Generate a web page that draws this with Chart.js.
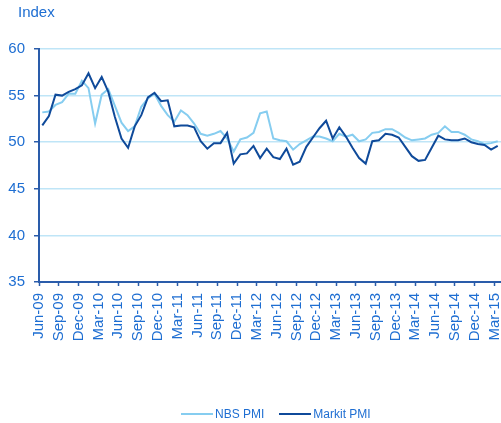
<!DOCTYPE html>
<html>
<head>
<meta charset="utf-8">
<script src="https://cdn.jsdelivr.net/npm/chart.js@4.4.1/dist/chart.umd.min.js"></script>
<style>
  html, body { margin: 0; padding: 0; background: #fff; overflow: hidden; }
  #wrap { position: relative; width: 501px; height: 423px; }
  #title { position: absolute; left: 18px; top: 3px; font: 15px/18px "Liberation Sans", Arial, sans-serif; color: #1e6ed2; }
  #legend { position: absolute; left: 181px; top: 407px; display: flex; align-items: center;
    font: 12px "Liberation Sans", Arial, sans-serif; color: #1e6ed2; white-space: nowrap; line-height: 14px; }
  #legend .item { display: flex; align-items: center; margin-right: 15px; }
  #legend .swatch { display: inline-block; width: 32px; height: 2px; margin-right: 2px; }
</style>
</head>
<body>
<div id="wrap">
  <canvas id="chartPmi" width="501" height="423"></canvas>
  <div id="title">Index</div>
  <div id="legend"></div>
</div>
<script>
// meses Jun-09 .. Mar-15 (um ponto por mes)
const months = [
  'Jun-09', 'Jul-09', 'Aug-09', 'Sep-09', 'Oct-09', 'Nov-09', 'Dec-09',
  'Jan-10', 'Feb-10', 'Mar-10', 'Apr-10', 'May-10', 'Jun-10', 'Jul-10', 'Aug-10', 'Sep-10', 'Oct-10', 'Nov-10', 'Dec-10',
  'Jan-11', 'Feb-11', 'Mar-11', 'Apr-11', 'May-11', 'Jun-11', 'Jul-11', 'Aug-11', 'Sep-11', 'Oct-11', 'Nov-11', 'Dec-11',
  'Jan-12', 'Feb-12', 'Mar-12', 'Apr-12', 'May-12', 'Jun-12', 'Jul-12', 'Aug-12', 'Sep-12', 'Oct-12', 'Nov-12', 'Dec-12',
  'Jan-13', 'Feb-13', 'Mar-13', 'Apr-13', 'May-13', 'Jun-13', 'Jul-13', 'Aug-13', 'Sep-13', 'Oct-13', 'Nov-13', 'Dec-13',
  'Jan-14', 'Feb-14', 'Mar-14', 'Apr-14', 'May-14', 'Jun-14', 'Jul-14', 'Aug-14', 'Sep-14', 'Oct-14', 'Nov-14', 'Dec-14',
  'Jan-15', 'Feb-15', 'Mar-15',
];

// rotulos do eixo x (a cada 3 meses)
const tickLabels = [
  'Jun-09', 'Sep-09', 'Dec-09', 'Mar-10', 'Jun-10', 'Sep-10', 'Dec-10', 'Mar-11',
  'Jun-11', 'Sep-11', 'Dec-11', 'Mar-12', 'Jun-12', 'Sep-12', 'Dec-12', 'Mar-13',
  'Jun-13', 'Sep-13', 'Dec-13', 'Mar-14', 'Jun-14', 'Sep-14', 'Dec-14', 'Mar-15',
];

const nbsPmi = [
  53.2, 53.3, 54.0, 54.3, 55.2, 55.2, 56.6,
  55.8, 52.0, 55.1, 55.7, 53.9, 52.1, 51.2, 51.7, 53.8, 54.7, 55.2, 53.9,
  52.9, 52.2, 53.4, 52.9, 52.0, 50.9, 50.7, 50.9, 51.2, 50.4, 49.0, 50.3,
  50.5, 51.0, 53.1, 53.3, 50.4, 50.2, 50.1, 49.2, 49.8, 50.2, 50.6, 50.6,
  50.4, 50.1, 50.9, 50.6, 50.8, 50.1, 50.3, 51.0, 51.1, 51.4, 51.4, 51.0,
  50.5, 50.2, 50.3, 50.4, 50.8, 51.0, 51.7, 51.1, 51.1, 50.8, 50.3, 50.1,
  49.8, 49.9, 50.1,
];

const markitPmi = [
  51.8, 52.8, 55.1, 55.0, 55.4, 55.7, 56.1,
  57.4, 55.8, 57.0, 55.4, 52.7, 50.4, 49.4, 51.7, 52.9, 54.8, 55.3, 54.4,
  54.5, 51.7, 51.8, 51.8, 51.6, 50.1, 49.3, 49.9, 49.9, 51.0, 47.7, 48.7,
  48.8, 49.6, 48.3, 49.3, 48.4, 48.2, 49.3, 47.6, 47.9, 49.5, 50.5, 51.5,
  52.3, 50.4, 51.6, 50.6, 49.4, 48.3, 47.7, 50.1, 50.2, 50.9, 50.8, 50.5,
  49.5, 48.5, 48.0, 48.1, 49.4, 50.7, 50.3, 50.2, 50.2, 50.4, 50.0, 49.8,
  49.7, 49.2, 49.6,
];

const yTicks = [35, 40, 45, 50, 55, 60];

const FONT = '"Liberation Sans", Arial, sans-serif';
const TEXT_BLUE = '#1e6ed2';
const AXIS_BLUE = '#2a5caa';
const GRID_BLUE = '#bfe5f7';

// pontos no meio do mes, ticks na divisa
const toPoints = (arr) => arr.map((v, i) => ({ x: i + 0.5, y: v }));

const ctx = document.getElementById('chartPmi');
const chart = new Chart(ctx, {
  type: 'line',
  data: {
    datasets: [
      { label: 'NBS PMI', data: toPoints(nbsPmi), borderColor: '#86cdf0', backgroundColor: '#86cdf0', borderWidth: 2, pointRadius: 0, tension: 0, order: 1 },
      { label: 'Markit PMI', data: toPoints(markitPmi), borderColor: '#0f4a9a', backgroundColor: '#0f4a9a', borderWidth: 2, pointRadius: 0, tension: 0, order: 0 },
    ],
  },
  options: {
    responsive: false,
    animation: false,
    layout: { padding: { left: 0, right: 0, top: 49, bottom: 0 } },
    plugins: {
      legend: { display: false },
      tooltip: { enabled: false },
    },
    scales: {
      x: {
        type: 'linear',
        min: 0,
        max: months.length,
        afterFit: (scale) => { scale.height = 141; scale.paddingLeft = 0; scale.paddingRight = 0; },
        grid: { drawOnChartArea: false, drawTicks: true, tickLength: 4, tickColor: AXIS_BLUE, tickWidth: 1.5 },
        border: { display: true, color: AXIS_BLUE, width: 2 },
        ticks: {
          stepSize: 3,
          includeBounds: false,
          autoSkip: false,
          minRotation: 90,
          maxRotation: 90,
          padding: 7,
          color: TEXT_BLUE,
          font: { family: FONT, size: 15 },
          callback: (v) => tickLabels[v / 3] || '',
        },
      },
      y: {
        min: yTicks[0],
        max: yTicks[yTicks.length - 1],
        afterFit: (scale) => { scale.width = 39; scale.paddingTop = 0; scale.paddingBottom = 0; },
        grid: {
          color: (c) => (c.tick && c.tick.value === yTicks[0] ? 'rgba(0,0,0,0)' : GRID_BLUE),
          lineWidth: 1.5, drawTicks: true, tickLength: 5, tickColor: AXIS_BLUE, tickWidth: 1.5,
        },
        border: { display: true, color: AXIS_BLUE, width: 2 },
        ticks: { stepSize: 5, padding: 9, color: TEXT_BLUE, font: { family: FONT, size: 15 } },
      },
    },
  },
});

// legenda em HTML, montada a partir dos datasets
const legendEl = document.getElementById('legend');
chart.data.datasets.forEach((ds) => {
  const item = document.createElement('span');
  item.className = 'item';
  item.innerHTML = `<span class="swatch" style="background:${ds.borderColor}"></span><span>${ds.label}</span>`;
  legendEl.appendChild(item);
});
</script>
</body>
</html>
